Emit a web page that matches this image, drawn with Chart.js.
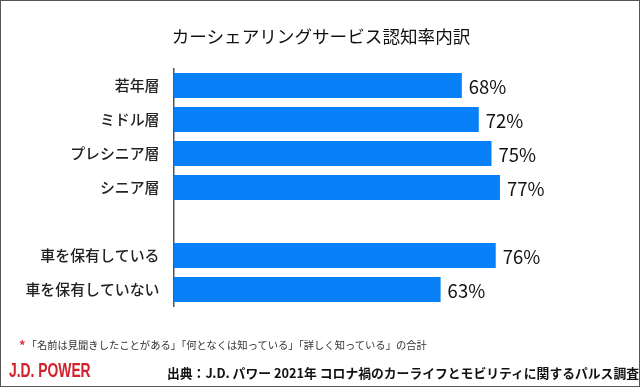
<!DOCTYPE html>
<html>
<head>
<meta charset="utf-8">
<script src="https://cdn.jsdelivr.net/npm/chart.js@4"></script>
<style>
  body { margin: 0; background: #fff; }
  #wrap { position: relative; width: 640px; height: 387px; overflow: hidden; }
  #myChart { position: absolute; left: 0; top: 0; }
  #frame { position: absolute; left: 0; top: 0; width: 640px; height: 387px; box-sizing: border-box; border: 1px solid #555; pointer-events: none; }
  .title { position: absolute; left: 0; width: 642px; top: 23px; text-align: center; font: 17.6px "Noto Sans CJK JP"; color: #111; white-space: nowrap; }
  .note { position: absolute; left: 19px; top: 334px; font: 10.3px "Noto Sans CJK JP"; color: #333; white-space: nowrap; }
  .note b { color: #e0303a; font-size: 13px; font-weight: bold; position: relative; top: 1px; margin-right: 1px; }
  .logo { position: absolute; left: 9px; top: 358px; font: bold 21px "Liberation Sans", "Roboto"; color: #d0222b; white-space: nowrap; transform: scaleX(0.66); transform-origin: left top; }
  .src { position: absolute; left: 167px; top: 363px; font: bold 12.8px "Noto Sans CJK JP"; color: #111; white-space: nowrap; }
</style>
</head>
<body>
<div id="wrap">
  <canvas id="myChart" width="640" height="387"></canvas>
  <div class="title">カーシェアリングサービス認知率内訳</div>
  <div class="note"><b>*</b>「名前は見聞きしたことがある」「何となくは知っている」「詳しく知っている」の合計</div>
  <div class="logo">J.D. POWER</div>
  <div class="src">出典：J.D. パワー 2021年 コロナ禍のカーライフとモビリティに関するパルス調査</div>
  <div id="frame"></div>
</div>
<script>
const ctx = document.getElementById('myChart');

const CATEGORIES = ['若年層', 'ミドル層', 'プレシニア層', 'シニア層', '', '車を保有している', '車を保有していない'];
const RATES = [68, 72, 75, 77, null, 76, 63];

const BAR_COLOR = '#0880f8';

// value labels at the end of each bar
const valueLabels = {
  id: 'valueLabels',
  afterDatasetsDraw(chart) {
    const c = chart.ctx;
    const meta = chart.getDatasetMeta(0);
    c.save();
    c.font = '18.5px "Noto Sans CJK JP"';
    c.fillStyle = '#111';
    c.textAlign = 'left';
    c.textBaseline = 'middle';
    meta.data.forEach((bar, i) => {
      const v = RATES[i];
      if (v === null) return;
      c.fillText(v + '%', bar.x + 7, bar.y + 1);
    });
    c.restore();
  }
};

window.myChart = new Chart(ctx, {
  type: 'bar',
  data: {
    labels: CATEGORIES,
    datasets: [{
      label: '認知率',
      data: RATES,
      backgroundColor: BAR_COLOR,
      borderWidth: 0,
      categoryPercentage: 1,
      barPercentage: 0.74
    }]
  },
  options: {
    indexAxis: 'y',
    responsive: false,
    animation: false,
    layout: { padding: { left: 0, right: 42.5, top: 68.5, bottom: 80.5 } },
    plugins: {
      legend: { display: false },
      tooltip: { enabled: false },
      title: { display: false }
    },
    scales: {
      x: {
        display: false,
        min: 0,
        max: 100
      },
      y: {
        afterFit(scale) { scale.width = 173.5; },
        grid: { display: false, drawTicks: false },
        border: { display: true, color: '#555', width: 1.5 },
        ticks: {
          padding: 14,
          color: '#222',
          font: { family: 'Noto Sans CJK JP', size: 14.9, weight: 500 }
        }
      }
    }
  },
  plugins: [valueLabels]
});
</script>
</body>
</html>
